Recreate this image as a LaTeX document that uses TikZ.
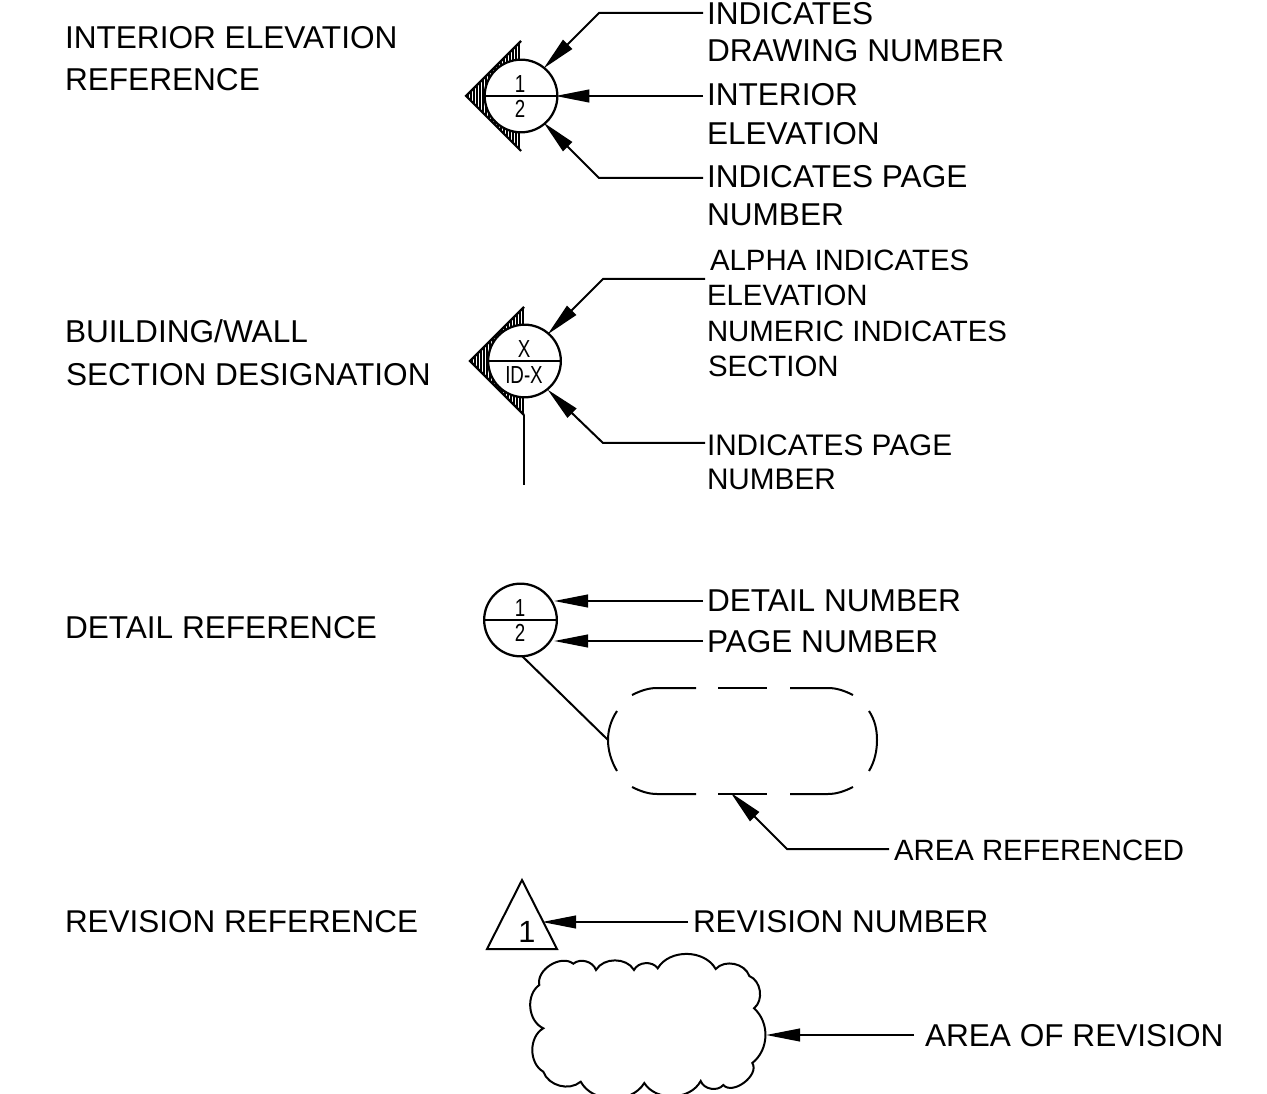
\documentclass[tikz,border=0pt]{standalone}
\usepackage{graphicx}
\usepackage{fontspec}
\setmainfont{Liberation Sans}
\usetikzlibrary{arrows.meta}
\tikzset{
  x=0.75pt,y=-0.75pt,
  thin ln/.style={line width=1.5pt},
  ldr/.style={line width=1.5pt,shorten >=-1.5pt,-{Triangle[length=25.5pt,width=9.5pt,sep=0pt]}},
  lab/.style={anchor=base west,inner sep=0pt,outer sep=0pt,font=\fontsize{#1}{#1}\selectfont},
  lab/.default=23.7,
  sym/.style={anchor=base,inner sep=0pt,outer sep=0pt,font=\fontsize{#1}{#1}\selectfont},
  sym/.default=18.5,
  bub/.style={circle,draw,line width=1.7pt,fill=white,inner sep=0pt,outer sep=0pt,minimum size=54.5pt},
  divider/.style={line width=1.7pt}
}
\newcommand{\hatchtri}[4]{% apex x, centre y, half height, white stripe width
  \begin{scope}
    \clip (#1,#2) -- (#1+#3,#2-#3) -- (#1+#3,#2+#3) -- cycle;
    \fill[black] (#1,#2-#3) rectangle (#1+#3,#2+#3);
    \foreach \k in {1,...,18} {\draw[white,line width=#4] (#1+3*\k,#2-#3) -- (#1+3*\k,#2+#3);}
  \end{scope}
  \draw[line width=1.6pt] (#1+#3,#2-#3) -- (#1,#2) -- (#1+#3,#2+#3);
}
\newcommand{\cond}[1]{\scalebox{0.76}[1]{#1}}
\begin{document}
\begin{tikzpicture}
\useasboundingbox (0,0) rectangle (1267,1094);
\clip (0,0) rectangle (1267,1094);
% left titles
\node[lab] (t1a) at (65,49) {INTERIOR ELEVATION};
\node[lab] (t1b) at (65,91) {REFERENCE};
\node[lab] (t2a) at (65,343) {BUILDING/WALL};
\node[lab] (t2b) at (66,386) {SECTION DESIGNATION};
\node[lab] (t3) at (65,638) {DETAIL REFERENCE};
\node[lab=23.6] (t4) at (65,932) {REVISION REFERENCE};
% interior elevation symbol
\hatchtri{466}{96}{55}{0.5pt}
\node[bub] (b1) at (521,96) {};
\draw[divider] (b1.west) -- (b1.east);
\node[sym] (b1t) at (520,93) {\cond{1}};
\node[sym] (b1b) at (520,118) {\cond{2}};
\coordinate (a1) at (703,13); \coordinate (a1k) at (599,13); \coordinate (a1t) at (545,67);
\coordinate (a2) at (703,96);
\coordinate (a3) at (703,178); \coordinate (a3k) at (599,178); \coordinate (a3t) at (545,124);
\draw[ldr] (a1) -- (a1k) -- (a1t);
\draw[ldr] (a2) -- (b1.east);
\draw[ldr] (a3) -- (a3k) -- (a3t);
\node[lab] (l1a) at (707,25) {INDICATES};
\node[lab] (l1b) at (707,62) {DRAWING NUMBER};
\node[lab] (l2a) at (707,106) {INTERIOR};
\node[lab] (l2b) at (707,145) {ELEVATION};
\node[lab] (l3a) at (707,188) {INDICATES PAGE};
\node[lab] (l3b) at (707,226) {NUMBER};
% section symbol
\hatchtri{470}{361}{54}{0.35pt}
\node[bub] (b2) at (524.5,361) {};
\draw[divider] (b2.west) -- (b2.east);
\node[sym] (b2t) at (524,358) {\cond{X}};
\node[sym] (b2b) at (524,384) {\cond{ID-X}};
\coordinate (s0) at (524,415); \coordinate (s0e) at (524,485);
\draw[thin ln] (s0) -- (s0e);
\coordinate (s1) at (705,279); \coordinate (s1k) at (603,279); \coordinate (s1t) at (549,333);
\coordinate (s2) at (705,443); \coordinate (s2k) at (603,443); \coordinate (s2t) at (549,391);
\draw[ldr] (s1) -- (s1k) -- (s1t);
\draw[ldr] (s2) -- (s2k) -- (s2t);
\node[lab=22.05] (l4a) at (710,271) {ALPHA INDICATES};
\node[lab=22.05] (l4b) at (707,306) {ELEVATION};
\node[lab=22.05] (l4c) at (707,342) {NUMERIC INDICATES};
\node[lab=22.05] (l4d) at (708,377) {SECTION};
\node[lab=22.3] (l5a) at (707,456) {INDICATES PAGE};
\node[lab=22.3] (l5b) at (707,490) {NUMBER};
% detail
\node[bub] (b3) at (520.5,620) {};
\draw[divider] (b3.west) -- (b3.east);
\node[sym] (b3t) at (520,616.7) {\cond{1}};
\node[sym] (b3b) at (520,641.7) {\cond{2}};
\coordinate (d1) at (703,601); \coordinate (d1t) at (556,601);
\coordinate (d2) at (703,641); \coordinate (d2t) at (556,641);
\draw[ldr] (d1) -- (d1t);
\draw[ldr] (d2) -- (d2t);
\node[lab] (l6) at (707,611) {DETAIL NUMBER};
\node[lab] (l7) at (707,652) {PAGE NUMBER};
\coordinate (dl1) at (522,656); \coordinate (dl2) at (608,740);
\draw[thin ln] (dl1) -- (dl2);
\draw[thin ln] (632,695) .. controls (640,691) and (648,688) .. (657,688) -- (696,688);
\draw[thin ln] (718,688) -- (767,688);
\draw[thin ln] (790,688) -- (828,688) .. controls (837,688) and (845,691) .. (853,695);
\draw[thin ln] (617,711) .. controls (611,720) and (608,730) .. (608,740) .. controls (608,750) and (611,761) .. (617,771);
\draw[thin ln] (869,711) .. controls (875,720) and (877,730) .. (877,740) .. controls (877,750) and (875,761) .. (869,771);
\draw[thin ln] (632,787) .. controls (640,791) and (648,794) .. (657,794) -- (696,794);
\draw[thin ln] (718,794) -- (767,794);
\draw[thin ln] (790,794) -- (828,794) .. controls (837,794) and (845,791) .. (853,787);
\coordinate (r1) at (889,849); \coordinate (r1k) at (787,849); \coordinate (r1t) at (732,794);
\draw[ldr] (r1) -- (r1k) -- (r1t);
\node[lab=22] (l8) at (894,860) {AREA REFERENCED};
% revision
\draw[thin ln,line join=miter] (522,880) -- (557,949) -- (487,949) -- cycle;
\node[sym=23] (rv) at (527,942) {1};
\coordinate (v1) at (688,922); \coordinate (v1t) at (544,922);
\draw[ldr] (v1) -- (v1t);
\node[lab=23.6] (l9) at (693,932) {REVISION NUMBER};
% cloud
\draw[thin ln]
 (539.3,985) to[bend left=70] (573.3,963.7)
 to[bend left=55] (596,970)
 to[bend left=60] (634,970)
 to[bend left=60] (657.7,968.3)
 to[bend left=60] (715.7,969)
 to[bend left=60] (749.3,976)
 to[bend left=60] (754,1008.3)
 to[bend left=50] (752.3,1063)
 to[bend left=85] (723.3,1085)
 to[bend left=60] (700.7,1081)
 to[bend left=60] (644.3,1083)
 to[bend left=60] (580.7,1081.7)
 to[bend left=55] (543.3,1071.7)
 to[bend left=60] (543.3,1028.3)
 to[bend left=60] cycle;
\coordinate (c1) at (914,1035); \coordinate (c1t) at (768,1035);
\draw[ldr] (c1) -- (c1t);
\node[lab] (l10) at (925,1046) {AREA OF REVISION};
\end{tikzpicture}
\end{document}
